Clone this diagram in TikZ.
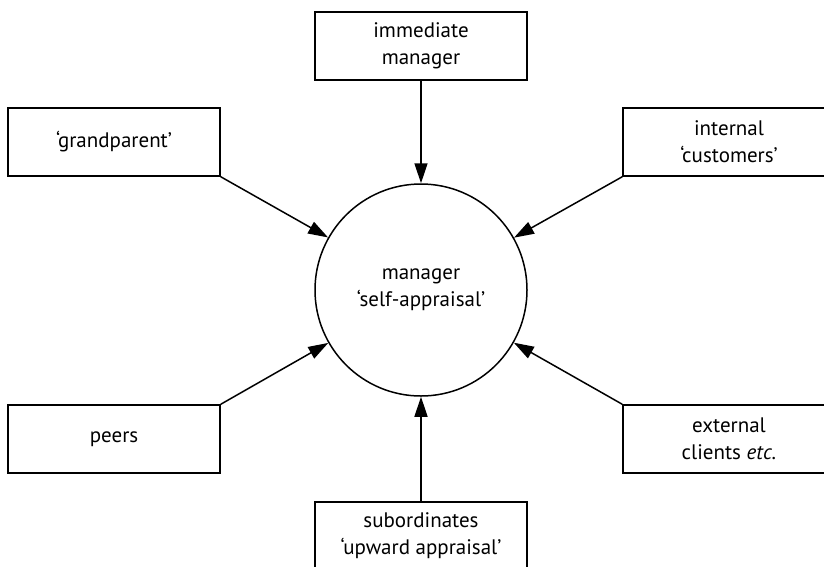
\documentclass[tikz,border=0pt]{standalone}
\usepackage{fontspec}
\setmainfont{PT Sans}
\usetikzlibrary{arrows.meta}
\begin{document}
\begin{tikzpicture}[x=1pt,y=-1pt,
  box/.style={draw, line width=1.5pt, minimum width=212pt, minimum height=68pt, inner sep=0pt, align=center, font=\fontsize{21}{27}\selectfont},
  circ/.style={draw, circle, line width=1.5pt, minimum size=212pt, inner sep=0pt, align=center, font=\fontsize{21}{27}\selectfont},
  arr/.style={line width=1.5pt, -{Triangle[length=20pt,width=13pt]}}]
\useasboundingbox (0,0) rectangle (824,566);
\clip (0,0) rectangle (824,566);
\node[circ] (mgr) at (421,290) {manager\\‘self-appraisal’};
\node[box] (imm) at (421,46) {immediate\\manager};
\node[box] (grand) at (114,142) {‘grandparent’};
\node[box] (int) at (729,142) {internal\\‘customers’};
\node[box] (peers) at (114,439) {peers};
\node[box] (ext) at (729,439) {external\\clients \textit{etc.}};
\node[box] (sub) at (421,536) {subordinates\\‘upward appraisal’};
\draw[arr] (imm.south) -- (mgr.north);
\draw[arr] (sub.north) -- (mgr.south);
\draw[arr] (grand.south east) -- (mgr);
\draw[arr] (int.south west) -- (mgr);
\draw[arr] (peers.north east) -- (mgr);
\draw[arr] (ext.north west) -- (mgr);
\end{tikzpicture}
\end{document}
